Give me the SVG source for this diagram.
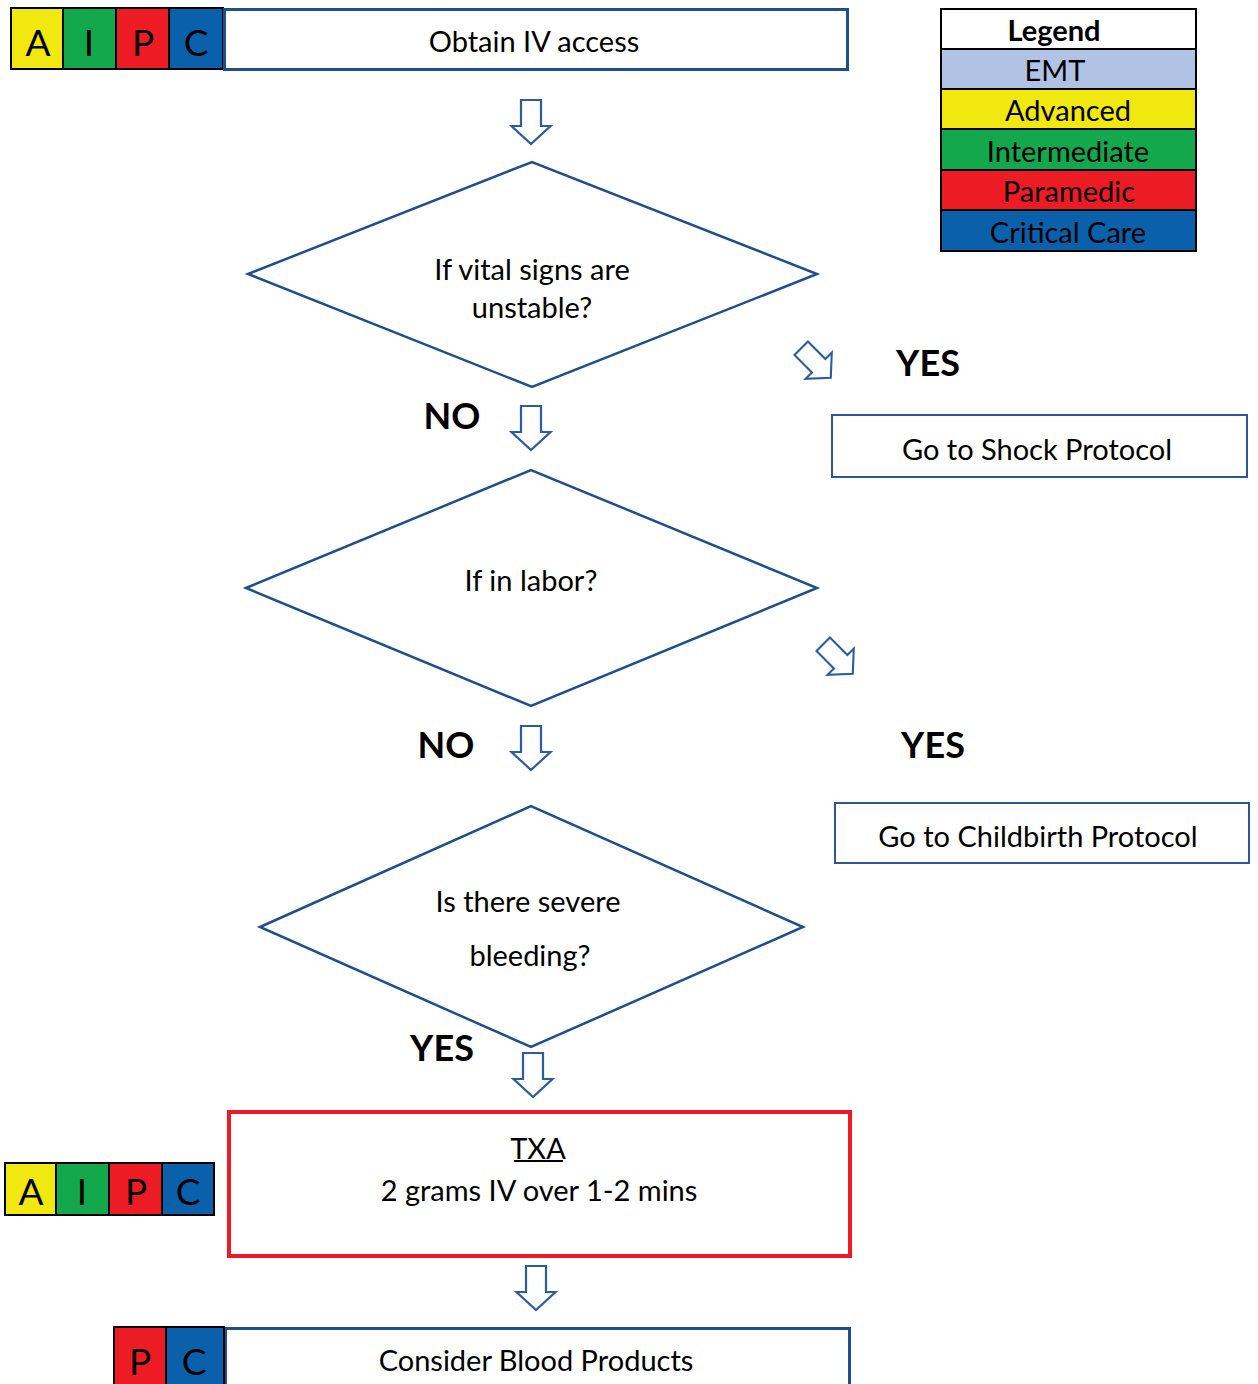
<svg xmlns="http://www.w3.org/2000/svg" width="1258" height="1384" viewBox="0 0 1258 1384">
<style>
text{font-family:Lato,"Open Sans","Liberation Sans",sans-serif;fill:#000;text-anchor:middle;dominant-baseline:central}
.t{font-size:29px}
.lg{font-size:29px}
.bd{font-size:37px}
.yn{font-size:36px;font-weight:bold}
.cell{stroke:#000;stroke-width:2}
.box{fill:#fff;stroke:#1F4E8C;stroke-width:3}
.box2{fill:#fff;stroke:#2F5597;stroke-width:2}
.dia{fill:#fff;stroke:#1F4E8C;stroke-width:2.5}
.arr{fill:#fff;stroke:#2A5CA0;stroke-width:2.2;stroke-linejoin:miter}
.y{fill:#F0E80E}.g{fill:#12A84B}.r{fill:#ED1C24}.b{fill:#0A60AA}.e{fill:#B0C3E4}.w{fill:#fff}
</style>
<defs>
<path id="darr" d="M-10,0 H10 V26 H19.5 L0,44 L-19.5,26 H-10 Z"/>
</defs>

<g id="badge-top">
<rect class="cell y" x="11" y="8" width="52" height="61"/>
<rect class="cell g" x="63" y="8" width="53" height="61"/>
<rect class="cell r" x="116" y="8" width="53" height="61"/>
<rect class="cell b" x="169" y="8" width="54" height="61"/>
<text class="bd" x="38" y="41">A</text>
<text class="bd" x="89" y="41">I</text>
<text class="bd" x="143" y="41">P</text>
<text class="bd" x="196" y="41">C</text>
</g>
<g id="obtain-iv">
<rect class="box" x="224.5" y="9.5" width="623" height="60"/>
<text class="t" x="534" y="40">Obtain IV access</text>
</g>

<g id="legend">
<rect class="cell w" x="941" y="9" width="255" height="40"/>
<rect class="cell e" x="941" y="49" width="255" height="40"/>
<rect class="cell y" x="941" y="89" width="255" height="40"/>
<rect class="cell g" x="941" y="129" width="255" height="41"/>
<rect class="cell r" x="941" y="170" width="255" height="40"/>
<rect class="cell b" x="941" y="210" width="255" height="41"/>
<text class="lg" x="1054" y="29" font-weight="bold">Legend</text>
<text class="lg" x="1055" y="69">EMT</text>
<text class="lg" x="1068" y="109">Advanced</text>
<text class="lg" x="1068" y="150">Intermediate</text>
<text class="lg" x="1069" y="190">Paramedic</text>
<text class="lg" x="1068" y="231">Critical Care</text>
</g>

<g id="d1">
<polygon class="dia" points="248,274 532,162 817,274 532,387"/>
<text class="t" x="532" y="268">If vital signs are</text>
<text class="t" x="532" y="306">unstable?</text>
</g>
<g id="shock">
<rect class="box2" x="832" y="415" width="415" height="62"/>
<text class="t" x="1037" y="448">Go to Shock Protocol</text>
</g>

<g id="d2">
<polygon class="dia" points="246,588 531,470 817,588 531,706"/>
<text class="t" x="531" y="579">If in labor?</text>
</g>
<g id="childbirth">
<rect class="box2" x="835" y="803" width="414" height="60"/>
<text class="t" x="1038" y="835">Go to Childbirth Protocol</text>
</g>

<g id="d3">
<polygon class="dia" points="260,927 531,806 803,927 531,1047"/>
<text class="t" x="528" y="900">Is there severe</text>
<text class="t" x="530" y="954">bleeding?</text>
</g>

<g id="txa">
<rect x="229" y="1112" width="621" height="144" fill="#fff" stroke="#ED1C24" stroke-width="4"/>
<text class="t" x="538" y="1147">TXA</text>
<line x1="514" y1="1161" x2="563" y2="1161" stroke="#000" stroke-width="2"/>
<text class="t" x="539" y="1189">2 grams IV over 1-2 mins</text>
</g>
<g id="badge-txa">
<rect class="cell y" x="5" y="1163" width="51" height="52"/>
<rect class="cell g" x="56" y="1163" width="53" height="52"/>
<rect class="cell r" x="109" y="1163" width="53" height="52"/>
<rect class="cell b" x="162" y="1163" width="52" height="52"/>
<text class="bd" x="31" y="1190">A</text>
<text class="bd" x="82" y="1190">I</text>
<text class="bd" x="136" y="1190">P</text>
<text class="bd" x="188" y="1190">C</text>
</g>

<g id="blood">
<rect class="box" x="225.5" y="1328.5" width="624" height="70"/>
<text class="t" x="536" y="1359">Consider Blood Products</text>
</g>
<g id="badge-blood">
<rect class="cell r" x="114" y="1327" width="52" height="70"/>
<rect class="cell b" x="166" y="1327" width="58" height="70"/>
<text class="bd" x="140" y="1360">P</text>
<text class="bd" x="194" y="1360">C</text>
</g>

<g id="connectors">
<use href="#darr" class="arr" transform="translate(531,100)"/>
<use href="#darr" class="arr" transform="translate(816,363) rotate(-45) scale(0.95) translate(0,-22)"/>
<use href="#darr" class="arr" transform="translate(531,406)"/>
<use href="#darr" class="arr" transform="translate(838,659) rotate(-45) scale(0.95) translate(0,-22)"/>
<use href="#darr" class="arr" transform="translate(531,726)"/>
<use href="#darr" class="arr" transform="translate(533,1053)"/>
<use href="#darr" class="arr" transform="translate(536,1266)"/>
<text class="yn" x="928" y="362">YES</text>
<text class="yn" x="452" y="415">NO</text>
<text class="yn" x="446" y="744">NO</text>
<text class="yn" x="933" y="744">YES</text>
<text class="yn" x="442" y="1047">YES</text>
</g>
</svg>
